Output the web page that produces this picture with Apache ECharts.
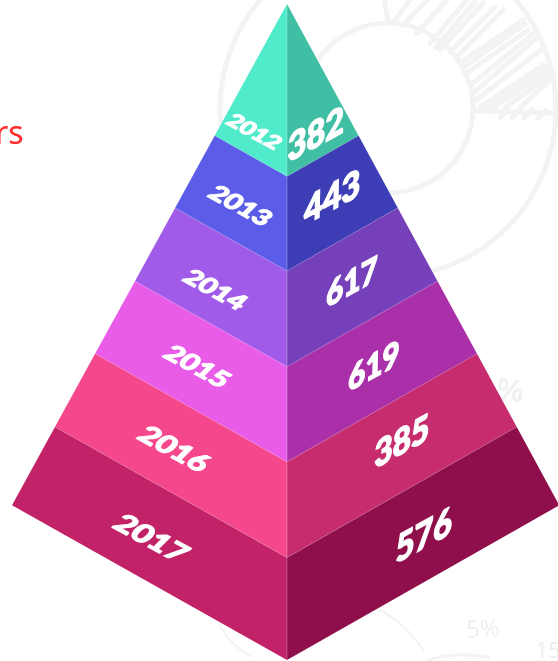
<!DOCTYPE html>
<html>
<head>
<meta charset="utf-8">
<style>
html,body{margin:0;padding:0;background:#fff;overflow:hidden}
#chart{width:558px;height:661px}
</style>
<script src="https://cdn.jsdelivr.net/npm/echarts@6/dist/echarts.min.js"></script>
</head>
<body>
<div id="chart"></div>
<script>
// Yearly figures, top layer of the pyramid first
const years = ['2012', '2013', '2014', '2015', '2016', '2017'];
const amounts = [382, 443, 617, 619, 385, 576];

// Face colours for each layer
const leftFaces = ['#4FEBCB', '#5B5CE8', '#A05CE8', '#E85CE8', '#F5488C', '#C22267'];
const rightFaces = ['#40BFA5', '#3D3DB5', '#7540BA', '#AA30AA', '#C62C6E', '#8F0F4C'];

// Pyramid model: depth runs 0 (apex) to 1 (front corner), spread runs -1 to 1
const bandEdges = [0, 0.263, 0.407, 0.553, 0.698, 0.844, 1];
const sideDrop = 0.764;
const rightReach = 0.99;

// Label anchors per layer in the same model units: [spread, depth]
const yearSpots = [[-0.12, 0.195], [-0.17, 0.308], [-0.262, 0.436], [-0.327, 0.553], [-0.411, 0.679], [-0.495, 0.815]];
const amountSpots = [[0.105, 0.2], [0.164, 0.296], [0.236, 0.425], [0.316, 0.553], [0.418, 0.668], [0.498, 0.811]];
const yearSizes = [20, 23, 23, 24, 26, 27];
const amountSizes = [33, 33, 30, 30, 32, 33];

function corner(api, side, depth) {
  if (side === 0) return api.coord([0, depth]);
  const reach = side > 0 ? rightReach : 1;
  return api.coord([side * depth * reach, depth * sideDrop]);
}

function drawLayer(params, api) {
  const i = api.value(0);
  const top = bandEdges[i];
  const bottom = bandEdges[i + 1];
  const lTop = corner(api, -1, top), cTop = corner(api, 0, top), rTop = corner(api, 1, top);
  const lBot = corner(api, -1, bottom), cBot = corner(api, 0, bottom), rBot = corner(api, 1, bottom);
  const seam = { stroke: 'rgba(255,255,255,0.32)', lineWidth: 0.8, fill: null };
  const yearAt = api.coord(yearSpots[i]);
  const amountAt = api.coord(amountSpots[i]);
  return {
    type: 'group',
    children: [
      { type: 'polygon', shape: { points: [lTop, cTop, cBot, lBot] }, style: { fill: leftFaces[i] } },
      { type: 'polygon', shape: { points: [cTop, rTop, rBot, cBot] }, style: { fill: rightFaces[i] } },
      { type: 'polyline', shape: { points: [cTop, cBot] }, style: seam },
      { type: 'polyline', shape: { points: i < years.length - 1 ? [lBot, cBot, rBot] : [cBot, cBot] }, style: seam },
      {
        type: 'text', x: yearAt[0], y: yearAt[1], rotation: -0.5, scaleX: 1.22, skewX: -0.28,
        style: {
          text: years[i], fill: '#fff', stroke: '#fff', lineWidth: 1.1, align: 'center', verticalAlign: 'middle',
          font: '900 ' + yearSizes[i] + 'px Lato'
        }
      },
      {
        type: 'text', x: amountAt[0], y: amountAt[1], rotation: 0.5, scaleX: 1.12, skewX: -0.52,
        style: {
          text: String(api.value(1)), fill: '#fff', stroke: '#fff', lineWidth: 1.3, align: 'center', verticalAlign: 'middle',
          font: '900 ' + amountSizes[i] + 'px Lato'
        }
      }
    ]
  };
}

// Pale hand-sketched decoration behind the pyramid
const sketchInk = '#f3f3f3';
const hatchStrokes = [
  [393, 23, 410, 0], [403, 25, 427, 0], [417, 33, 447, 0], [430, 43, 467, 0],
  [436, 47, 475, 2], [440, 50, 483, 3], [450, 52, 495, 7], [457, 57, 503, 10],
  [460, 63, 523, 20], [464, 67, 525, 24], [467, 73, 528, 30], [472, 84, 533, 34],
  [473, 93, 537, 38], [476, 100, 541, 50], [480, 107, 543, 65], [487, 108, 546, 68],
  [493, 108, 548, 72], [505, 108, 549, 76], [520, 108, 550, 80],
  [500, 118, 508, 110], [512, 118, 520, 110], [524, 118, 532, 110], [538, 118, 546, 110],
  [384, 0, 388, 20]
];
const sketchArcs = [
  [378, 609, 404, 622, 424, 651, 2],
  [220, 624, 226, 642, 252, 657, 2],
  [426, 661, 455, 650, 490, 658, 3]
];
const sketch = [
  { type: 'circle', shape: { cx: 388, cy: 109, r: 168 }, style: { fill: null, stroke: sketchInk, lineWidth: 5 } },
  { type: 'circle', shape: { cx: 388, cy: 108, r: 85 }, style: { fill: null, stroke: sketchInk, lineWidth: 5 } },
  { type: 'line', shape: { x1: 473, y1: 111, x2: 556, y2: 113 }, style: { stroke: sketchInk, lineWidth: 5 } },
  { type: 'text', x: 483, y: 630, rotation: 0.05, style: { text: '5%', fill: '#efefef', font: '400 24px "Noto Sans"', align: 'center', verticalAlign: 'middle' } },
  { type: 'text', x: 548, y: 652, style: { text: '15', fill: '#efefef', font: '400 22px "Noto Sans"', align: 'center', verticalAlign: 'middle' } },
  { type: 'text', x: 510, y: 392, rotation: -0.15, style: { text: '%', fill: '#f1f1f1', font: '700 30px "Noto Sans"', align: 'center', verticalAlign: 'middle' } }
].concat(sketchArcs.map(a => ({
  type: 'bezierCurve', shape: { x1: a[0], y1: a[1], cpx1: a[2], cpy1: a[3], x2: a[4], y2: a[5] },
  style: { fill: null, stroke: sketchInk, lineWidth: a[6] }
}))).concat(hatchStrokes.map(s => ({
  type: 'line', shape: { x1: s[0], y1: s[1], x2: s[2], y2: s[3] },
  style: { stroke: sketchInk, lineWidth: 5, lineCap: 'round' }
})));

const chart = echarts.init(document.getElementById('chart'), null, { renderer: 'canvas' });
chart.setOption({
  animation: false,
  backgroundColor: '#fff',
  grid: { left: 12, top: 4, width: 550, height: 656, outerBoundsMode: 'none' },
  xAxis: { type: 'value', min: -1, max: 1, show: false },
  yAxis: { type: 'value', min: 0, max: 1, inverse: true, show: false },
  graphic: sketch.concat([
    { type: 'text', x: -5, y: 119, style: { text: 'rs', fill: '#FF2B2B', font: '400 32px "Noto Sans"' } }
  ]),
  series: [{
    type: 'custom',
    silent: true,
    clip: false,
    z: 5,
    renderItem: drawLayer,
    data: years.map((y, i) => [i, amounts[i]])
  }]
});
</script>
</body>
</html>
